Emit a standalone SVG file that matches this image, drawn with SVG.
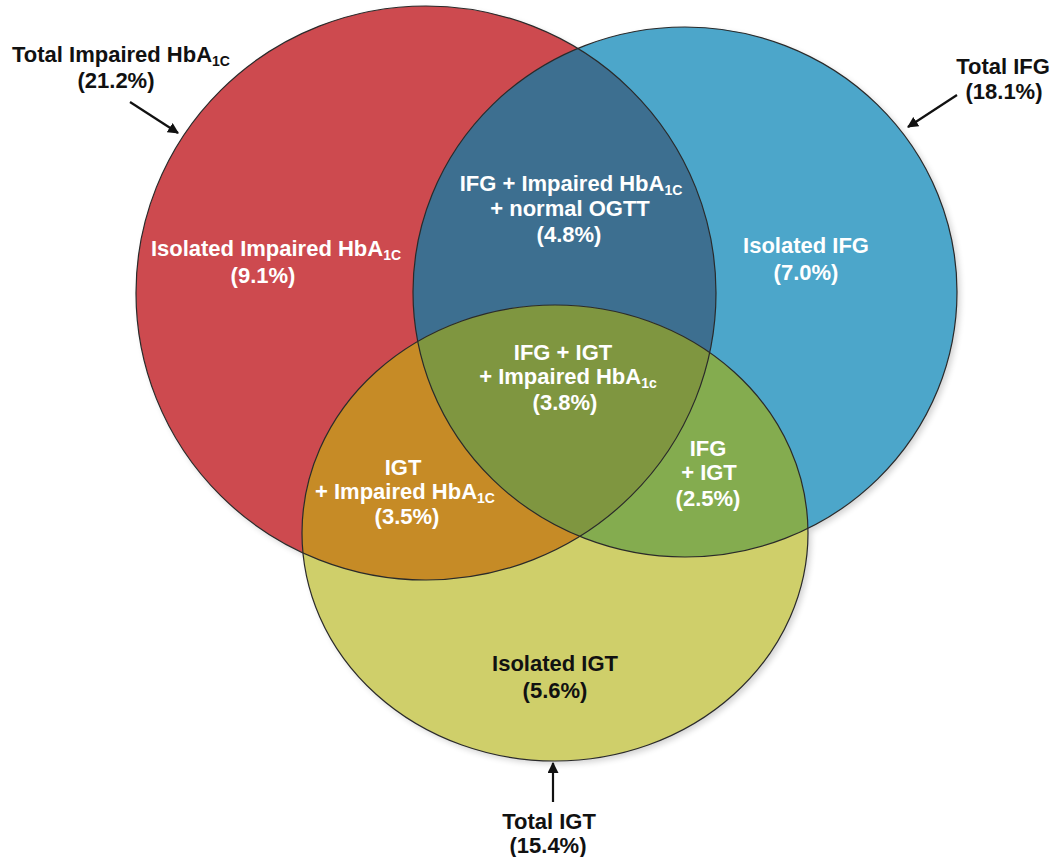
<svg xmlns="http://www.w3.org/2000/svg" width="1050" height="857" viewBox="0 0 1050 857">
<defs>
<style>
.t{font-family:"Liberation Sans",Arial,sans-serif;font-weight:bold;font-size:22px;text-anchor:middle}
.w{fill:#ffffff}
.b{fill:#111111}
.sub{font-size:14px}
.edge{fill:none;stroke:#2a2a2a;stroke-width:1.2}
.conn{stroke:#111111;stroke-width:2.2;fill:none}
</style>
<clipPath id="cRed"><ellipse cx="426" cy="293" rx="290" ry="287"/></clipPath>
<clipPath id="cBlue"><ellipse cx="685" cy="292" rx="272" ry="265"/></clipPath>
<clipPath id="cYel"><ellipse cx="555" cy="533" rx="253" ry="228"/></clipPath>
<filter id="sh" x="-10%" y="-10%" width="120%" height="120%">
<feGaussianBlur stdDeviation="3"/>
</filter>
<marker id="ah" viewBox="0 0 10 10" refX="9" refY="5" markerWidth="5" markerHeight="5" orient="auto-start-reverse" markerUnits="strokeWidth">
<path d="M0,0 L10,5 L0,10 z" fill="#111111"/>
</marker>
</defs>
<rect width="1050" height="857" fill="#ffffff"/>
<g id="shadows" filter="url(#sh)" fill="#000000" opacity="0.18">
<ellipse cx="429" cy="296" rx="290" ry="287"/>
<ellipse cx="688" cy="295" rx="272" ry="265"/>
<ellipse cx="558" cy="536" rx="253" ry="228"/>
</g>
<g id="hba1c">
<ellipse cx="426" cy="293" rx="290" ry="287" fill="#CD4A4F"/>
</g>
<g id="ifg">
<ellipse cx="685" cy="292" rx="272" ry="265" fill="#4CA6CA"/>
</g>
<g id="igt">
<ellipse cx="555" cy="533" rx="253" ry="228" fill="#CFCF6A"/>
</g>
<g id="ifg-hba1c">
<ellipse cx="685" cy="292" rx="272" ry="265" fill="#3D6F90" clip-path="url(#cRed)"/>
</g>
<g id="igt-hba1c">
<ellipse cx="555" cy="533" rx="253" ry="228" fill="#C68B26" clip-path="url(#cRed)"/>
</g>
<g id="ifg-igt">
<ellipse cx="555" cy="533" rx="253" ry="228" fill="#84AC4F" clip-path="url(#cBlue)"/>
</g>
<g id="ifg-igt-hba1c" clip-path="url(#cRed)">
<ellipse cx="555" cy="533" rx="253" ry="228" fill="#7F9640" clip-path="url(#cBlue)"/>
</g>
<g id="outlines">
<ellipse class="edge" cx="426" cy="293" rx="290" ry="287"/>
<ellipse class="edge" cx="685" cy="292" rx="272" ry="265"/>
<ellipse class="edge" cx="555" cy="533" rx="253" ry="228"/>
</g>
<g id="connectors">
<line class="conn" x1="130" y1="102" x2="178" y2="133" marker-end="url(#ah)"/>
<line class="conn" x1="957" y1="95" x2="908" y2="127" marker-end="url(#ah)"/>
<line class="conn" x1="553" y1="802" x2="553" y2="763" marker-end="url(#ah)"/>
</g>
<g id="labels">
<text class="t b" x="121" y="62">Total Impaired HbA<tspan class="sub" dy="4">1C</tspan></text>
<text class="t b" x="116" y="88">(21.2%)</text>
<text class="t b" x="1003" y="74">Total IFG</text>
<text class="t b" x="1004" y="99">(18.1%)</text>
<text class="t b" x="549" y="829">Total IGT</text>
<text class="t b" x="548" y="853">(15.4%)</text>
<text class="t w" x="276" y="256">Isolated Impaired HbA<tspan class="sub" dy="4">1C</tspan></text>
<text class="t w" x="263" y="283">(9.1%)</text>
<text class="t w" x="571" y="191">IFG + Impaired HbA<tspan class="sub" dy="4">1C</tspan></text>
<text class="t w" x="570" y="216">+ normal OGTT</text>
<text class="t w" x="569" y="242">(4.8%)</text>
<text class="t w" x="806" y="253">Isolated IFG</text>
<text class="t w" x="806" y="280">(7.0%)</text>
<text class="t w" x="563" y="360">IFG + IGT</text>
<text class="t w" x="568" y="384">+ Impaired HbA<tspan class="sub" dy="4">1c</tspan></text>
<text class="t w" x="565" y="410">(3.8%)</text>
<text class="t w" x="403" y="475">IGT</text>
<text class="t w" x="405" y="499">+ Impaired HbA<tspan class="sub" dy="4">1C</tspan></text>
<text class="t w" x="407" y="524">(3.5%)</text>
<text class="t w" x="708" y="456">IFG</text>
<text class="t w" x="709" y="480">+ IGT</text>
<text class="t w" x="708" y="506">(2.5%)</text>
<text class="t b" x="555" y="671">Isolated IGT</text>
<text class="t b" x="555" y="698">(5.6%)</text>
</g>
</svg>
